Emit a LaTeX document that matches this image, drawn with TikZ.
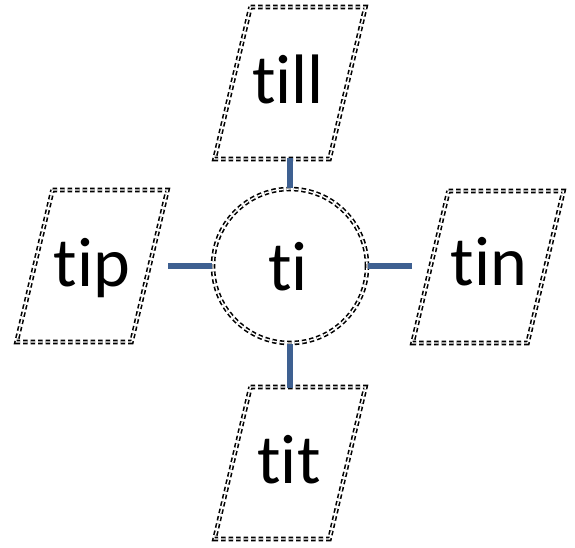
\documentclass[tikz,border=0pt]{standalone}
\usepackage{fontspec}
\setmainfont{Carlito}[Ligatures=NoCommon]
\definecolor{linkblue}{RGB}{62,96,145}
\begin{document}
\begin{tikzpicture}[x=1pt,y=-1pt,
  dd/.style={draw=black,line width=1.6pt,double=white,double distance=1.4pt,dash pattern=on 4.5pt off 3pt},
  lbl/.style={font=\fontsize{70}{72}\selectfont,inner sep=0pt,anchor=base},
  link/.style={draw=linkblue,line width=5.5pt},
  para/.style={dd}]
\useasboundingbox (0,0) rectangle (575,547);
% parallelogram outlines
\foreach \cx/\cy in {290/83, 92/266, 488/267, 290/463}{
  \begin{scope}[shift={(\cx,\cy)}]
    \draw[para] (-39.5,-76) -- (75.5,-76) -- (39.5,76) -- (-75.5,76) -- cycle;
  \end{scope}
}
% circle
\node[dd,circle,minimum size=154pt,inner sep=0pt] (ti) at (290,266) {};
% labels
\node[lbl] (tillT) at (288,103) {till};
\node[lbl] (tiT) at (288,290) {ti};
\node[lbl] (tipT) at (92,286) {tip};
\node[lbl] (tinT) at (489,285) {tin};
\node[lbl] (titT) at (289,483) {tit};
% connector ends
\coordinate (tillS) at (290,158);
\coordinate (tipE) at (168,266);
\coordinate (tinW) at (412,266);
\coordinate (titN) at (290,388);
\draw[link] (tillS) -- (ti.north);
\draw[link] (tipE) -- (ti.west);
\draw[link] (tinW) -- (ti.east);
\draw[link] (titN) -- (ti.south);
\end{tikzpicture}
\end{document}
